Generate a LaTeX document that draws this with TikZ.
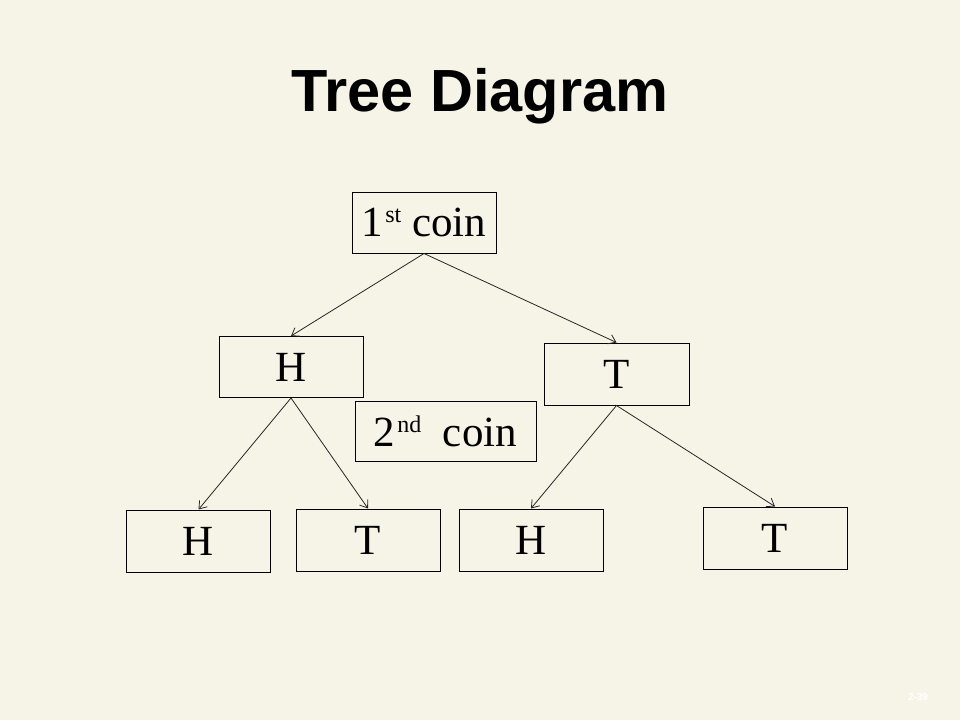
\documentclass[tikz,border=0pt]{standalone}
\usepackage{fontspec}
\setmainfont{Liberation Serif}
\newfontfamily\titlefont{Liberation Sans}
\usetikzlibrary{arrows.meta}
\definecolor{bgcream}{RGB}{246,244,230}
\newcommand\mysup[1]{\raisebox{14pt}{\fontsize{24}{28}\selectfont #1}}
\tikzset{
  box/.style={draw=black, line width=1pt, inner sep=0pt, minimum width=144pt, minimum height=61pt,
    font=\fontsize{43}{50}\selectfont, text=black},
  branch/.style={draw=black!85, line width=0.8pt, -{Straight Barb[length=7pt,width=10pt,line width=0.8pt]}}
}
\begin{document}
\begin{tikzpicture}[x=1pt,y=-1pt]
\fill[bgcream] (0,0) rectangle (960,720);
\useasboundingbox (0,0) rectangle (960,720);
\node[anchor=base, font=\titlefont\bfseries\fontsize{59.5}{70}\selectfont] (title) at (480,111) {Tree Diagram};
\node[box] (first) at (424,222.5) {1\hspace{2pt}\mysup{st} coin};
\node[box] (h1) at (291,367) {H};
\node[box, minimum height=62pt, minimum width=145pt] (t1) at (616.5,374) {T};
\node[box, minimum width=181pt, minimum height=60pt] (second) at (445.5,431) {2\hspace{2pt}\mysup{nd}\ \ coin};
\node[box, minimum height=62pt] (hh) at (198.5,541) {H};
\node[box, minimum height=62pt] (ht) at (368,540) {T};
\node[box, minimum height=62pt] (th) at (531,540) {H};
\node[box, minimum height=62pt] (tt) at (775,538) {T};
\draw[branch] (first.south) -- (h1.north);
\draw[branch] (first.south) -- (t1.north);
\draw[branch] (h1.south) -- (hh.north);
\draw[branch] (h1.south) -- (ht.north);
\draw[branch] (t1.south) -- (th.north);
\draw[branch] (t1.south) -- (tt.north);
\node[text=white, font=\titlefont\bfseries\fontsize{10}{12}\selectfont] (pagenum) at (918,697) {2-39};
\end{tikzpicture}
\end{document}
